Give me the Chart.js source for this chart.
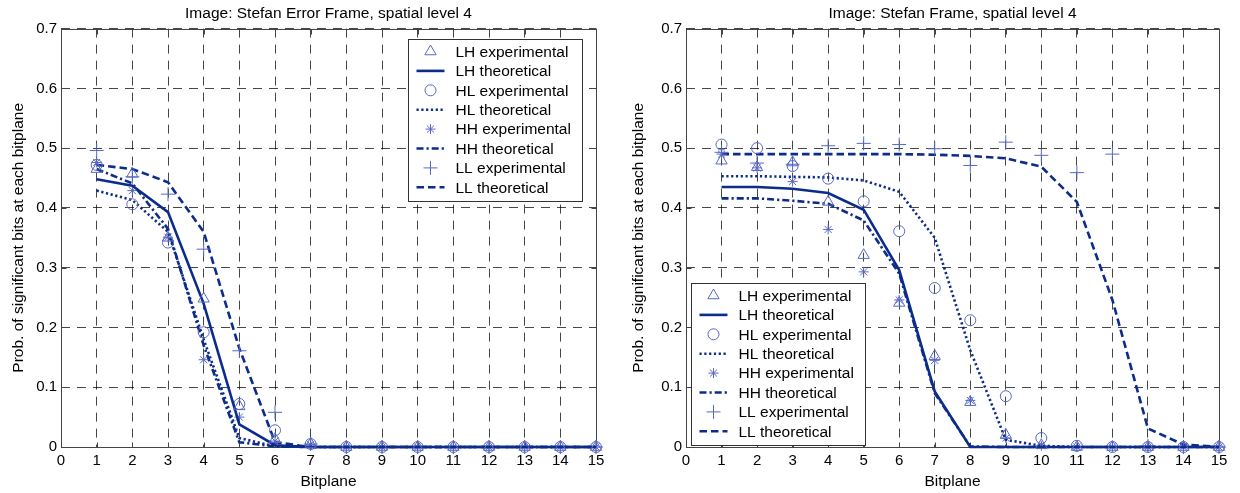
<!DOCTYPE html>
<html>
<head>
<meta charset="utf-8">
<script src="https://cdn.jsdelivr.net/npm/chart.js@4.4.0/dist/chart.umd.min.js"></script>
<style>
  html, body { margin: 0; padding: 0; background: #fff; }
  .panel { position: absolute; top: 0; width: 620px; height: 493px; }
</style>
</head>
<body>
<div class="panel" style="left:0"><canvas id="errorFrame" width="620" height="493"></canvas></div>
<div class="panel" style="left:620px"><canvas id="frame" width="620" height="493"></canvas></div>
<script>
// bitplane axis
const bitplanes = [1, 2, 3, 4, 5, 6, 7, 8, 9, 10, 11, 12, 13, 14, 15];
const xTickLabels = ["0", "1", "2", "3", "4", "5", "6", "7", "8", "9", "10", "11", "12", "13", "14", "15"];
const yTickLabels = ["0", "0.1", "0.2", "0.3", "0.4", "0.5", "0.6", "0.7"];
const seriesNames = [
  "LH experimental", "LH theoretical",
  "HL experimental", "HL theoretical",
  "HH experimental", "HH theoretical",
  "LL experimental", "LL theoretical",
];

// Stefan Error Frame, spatial level 4
const errLHexp = [0.465, 0.457, 0.35, 0.248, 0.068, 0.013, 0.005, 0, 0, 0, 0, 0, 0, 0, 0];
const errLHtheo = [0.448, 0.437, 0.393, 0.24, 0.038, 0.003, 0, 0, 0, 0, 0, 0, 0, 0, 0];
const errHLexp = [0.472, 0.406, 0.342, 0.192, 0.072, 0.028, 0.005, 0, 0, 0, 0, 0, 0, 0, 0];
const errHLtheo = [0.429, 0.413, 0.36, 0.18, 0.015, 0.001, 0, 0, 0, 0, 0, 0, 0, 0, 0];
const errHHexp = [0.476, 0.429, 0.351, 0.146, 0.05, 0.01, 0.004, 0, 0, 0, 0, 0, 0, 0, 0];
const errHHtheo = [0.465, 0.441, 0.365, 0.17, 0.008, 0.001, 0, 0, 0, 0, 0, 0, 0, 0, 0];
const errLLexp = [0.496, 0.452, 0.423, 0.331, 0.161, 0.058, 0.005, 0, 0, 0, 0, 0, 0, 0, 0];
const errLLtheo = [0.472, 0.465, 0.443, 0.36, 0.165, 0.008, 0, 0, 0, 0, 0, 0, 0, 0, 0];

// Stefan Frame, spatial level 4
const frmLHexp = [0.479, 0.468, 0.476, 0.41, 0.321, 0.241, 0.152, 0.075, 0.02, 0.003, 0, 0, 0, 0, 0];
const frmLHtheo = [0.435, 0.435, 0.432, 0.425, 0.397, 0.296, 0.093, 0, 0, 0, 0, 0, 0, 0, 0];
const frmHLexp = [0.506, 0.5, 0.47, 0.449, 0.411, 0.361, 0.266, 0.212, 0.085, 0.015, 0.002, 0, 0, 0, 0];
const frmHLtheo = [0.453, 0.453, 0.452, 0.451, 0.446, 0.427, 0.35, 0.162, 0.012, 0.002, 0, 0, 0, 0, 0];
const frmHHexp = [0.49, 0.467, 0.444, 0.364, 0.293, 0.246, 0.145, 0.078, 0.015, 0.002, 0, 0, 0, 0, 0];
const frmHHtheo = [0.416, 0.416, 0.412, 0.407, 0.379, 0.29, 0.09, 0.001, 0, 0, 0, 0, 0, 0, 0];
const frmLLexp = [0.493, 0.475, 0.473, 0.504, 0.508, 0.506, 0.499, 0.471, 0.51, 0.488, 0.459, 0.49, 0.002, 0, 0];
const frmLLtheo = [0.49, 0.49, 0.49, 0.49, 0.49, 0.49, 0.489, 0.487, 0.483, 0.469, 0.41, 0.246, 0.031, 0.004, 0];

const FONT = '"Liberation Sans", Arial, Helvetica, sans-serif';
const lineColor = "#0c2c8c";
const markerColor = "rgb(88, 104, 196)";

Chart.defaults.font.family = FONT;
Chart.defaults.color = "#000";

function points(values) {
  return bitplanes.map((b, i) => ({ x: b, y: values[i] }));
}

function experimental(label, values, style, radius) {
  return {
    label,
    data: points(values),
    showLine: false,
    pointStyle: style,
    pointRadius: radius,
    pointHoverRadius: radius,
    pointBorderWidth: 1,
    pointBorderColor: markerColor,
    pointBackgroundColor: "rgba(0,0,0,0)",
    borderColor: markerColor,
    clip: false,
  };
}

function theoretical(label, values, dash) {
  return {
    label,
    data: points(values),
    showLine: true,
    borderColor: lineColor,
    borderWidth: 2.6,
    borderDash: dash,
    pointRadius: 0,
    pointHoverRadius: 0,
    tension: 0,
    clip: false,
  };
}

function buildSets(lhE, lhT, hlE, hlT, hhE, hhT, llE, llT) {
  return [
    experimental(seriesNames[0], lhE, "triangle", 6.5),
    theoretical(seriesNames[1], lhT, []),
    experimental(seriesNames[2], hlE, "circle", 5.5),
    theoretical(seriesNames[3], hlT, [2.2, 2.6]),
    experimental(seriesNames[4], hhE, "star", 5),
    theoretical(seriesNames[5], hhT, [7, 3, 2.2, 3]),
    experimental(seriesNames[6], llE, "cross", 7),
    theoretical(seriesNames[7], llT, [7.5, 4]),
  ];
}

// axes box with inward ticks like the original figure
const frameBox = {
  id: "frameBox",
  beforeDatasetsDraw(chart) {
    const { ctx, chartArea: a, scales } = chart;
    ctx.save();
    ctx.strokeStyle = "#444";
    ctx.lineWidth = 1;
    ctx.setLineDash([]);
    const l = Math.round(a.left) + 0.5, r = Math.round(a.right) + 0.5;
    const t = Math.round(a.top) + 0.5, b = Math.round(a.bottom) + 0.5;
    ctx.strokeRect(l, t, r - l, b - t);
    ctx.beginPath();
    scales.x.ticks.forEach((tk) => {
      const px = Math.round(scales.x.getPixelForValue(tk.value)) + 0.5;
      ctx.moveTo(px, b); ctx.lineTo(px, b - 5);
      ctx.moveTo(px, t); ctx.lineTo(px, t + 5);
    });
    scales.y.ticks.forEach((tk) => {
      const py = Math.round(scales.y.getPixelForValue(tk.value)) + 0.5;
      ctx.moveTo(l, py); ctx.lineTo(l + 5, py);
      ctx.moveTo(r, py); ctx.lineTo(r - 5, py);
    });
    ctx.stroke();
    ctx.restore();
  },
};

// boxed legend drawn inside the axes
const boxLegend = {
  id: "boxLegend",
  afterDatasetsDraw(chart, args, opts) {
    const { ctx, chartArea: a } = chart;
    const sets = chart.data.datasets;
    const rowH = 19.4;
    ctx.save();
    ctx.font = "15.5px " + FONT;
    const textW = Math.max(...sets.map((d) => ctx.measureText(d.label).width));
    const w = Math.round(47 + textW + 12);
    const h = Math.round(rowH * sets.length + 7);
    const x = Math.round(opts.corner === "ne" ? a.right - opts.dx - w : a.left + opts.dx) + 0.5;
    const y = Math.round(opts.corner === "ne" ? a.top + opts.dy : a.bottom - opts.dy - h) + 0.5;
    ctx.fillStyle = "#fff";
    ctx.fillRect(x, y, w, h);
    ctx.strokeStyle = "#333";
    ctx.lineWidth = 1;
    ctx.setLineDash([]);
    ctx.strokeRect(x, y, w, h);
    sets.forEach((d, i) => {
      const cy = y + 12 + i * rowH;
      if (d.showLine) {
        ctx.save();
        ctx.strokeStyle = d.borderColor;
        ctx.lineWidth = d.borderWidth;
        ctx.setLineDash(d.borderDash);
        ctx.beginPath();
        ctx.moveTo(x + 8, cy);
        ctx.lineTo(x + 36, cy);
        ctx.stroke();
        ctx.restore();
      } else {
        ctx.save();
        ctx.strokeStyle = markerColor;
        ctx.fillStyle = "rgba(0,0,0,0)";
        ctx.lineWidth = 1;
        Chart.helpers.drawPoint(ctx, { pointStyle: d.pointStyle, radius: d.pointRadius, borderWidth: 1, rotation: 0 }, x + 22, cy);
        ctx.restore();
      }
      ctx.fillStyle = "#000";
      ctx.textBaseline = "middle";
      ctx.textAlign = "left";
      ctx.fillText(d.label, x + 47, cy + 1);
    });
    ctx.restore();
  },
};

function makeChart(id, title, datasets, axisWidth, padRight, legendOpts) {
  return new Chart(document.getElementById(id), {
    type: "scatter",
    data: { datasets },
    plugins: [frameBox, boxLegend],
    options: {
      responsive: false,
      animation: false,
      events: [],
      layout: { padding: { left: 0, right: padRight, top: 0, bottom: 0 } },
      plugins: {
        legend: { display: false },
        tooltip: { enabled: false },
        title: {
          display: true,
          fullSize: false,
          text: title,
          color: "#000",
          font: { size: 15.5, weight: "normal" },
          padding: { top: 4, bottom: 6 },
        },
        boxLegend: legendOpts,
      },
      scales: {
        x: {
          type: "linear",
          min: 0,
          max: 15,
          grid: { color: "rgba(0,0,0,0.72)", lineWidth: 1, drawTicks: false },
          border: { display: false, dash: [9, 7] },
          ticks: {
            stepSize: 1,
            autoSkip: false,
            maxRotation: 0,
            padding: 5,
            color: "#000",
            font: { size: 15 },
            callback: (v, i) => xTickLabels[i],
          },
          title: {
            display: true,
            text: "Bitplane",
            color: "#000",
            font: { size: 15.5 },
            padding: { top: 0, bottom: 2 },
          },
          afterFit: (s) => { s.height = 46; },
        },
        y: {
          min: 0,
          max: 0.7,
          grid: { color: "rgba(0,0,0,0.72)", lineWidth: 1, drawTicks: false },
          border: { display: false, dash: [9, 7] },
          ticks: {
            stepSize: 0.1,
            padding: 4,
            color: "#000",
            font: { size: 15 },
            callback: (v, i) => yTickLabels[i],
          },
          title: {
            display: true,
            text: "Prob. of significant bits at each bitplane",
            color: "#000",
            font: { size: 15.5 },
            padding: { top: 9, bottom: 0 },
          },
          afterFit: (s) => { s.width = axisWidth; },
        },
      },
    },
  });
}

makeChart(
  "errorFrame",
  "Image: Stefan Error Frame, spatial level 4",
  buildSets(errLHexp, errLHtheo, errHLexp, errHLtheo, errHHexp, errHHtheo, errLLexp, errLLtheo),
  61, 24,
  { corner: "ne", dx: 14, dy: 10 }
);

makeChart(
  "frame",
  "Image: Stefan Frame, spatial level 4",
  buildSets(frmLHexp, frmLHtheo, frmHLexp, frmHLtheo, frmHHexp, frmHHtheo, frmLLexp, frmLLtheo),
  66, 21,
  { corner: "sw", dx: 5, dy: 2 }
);
</script>
</body>
</html>
